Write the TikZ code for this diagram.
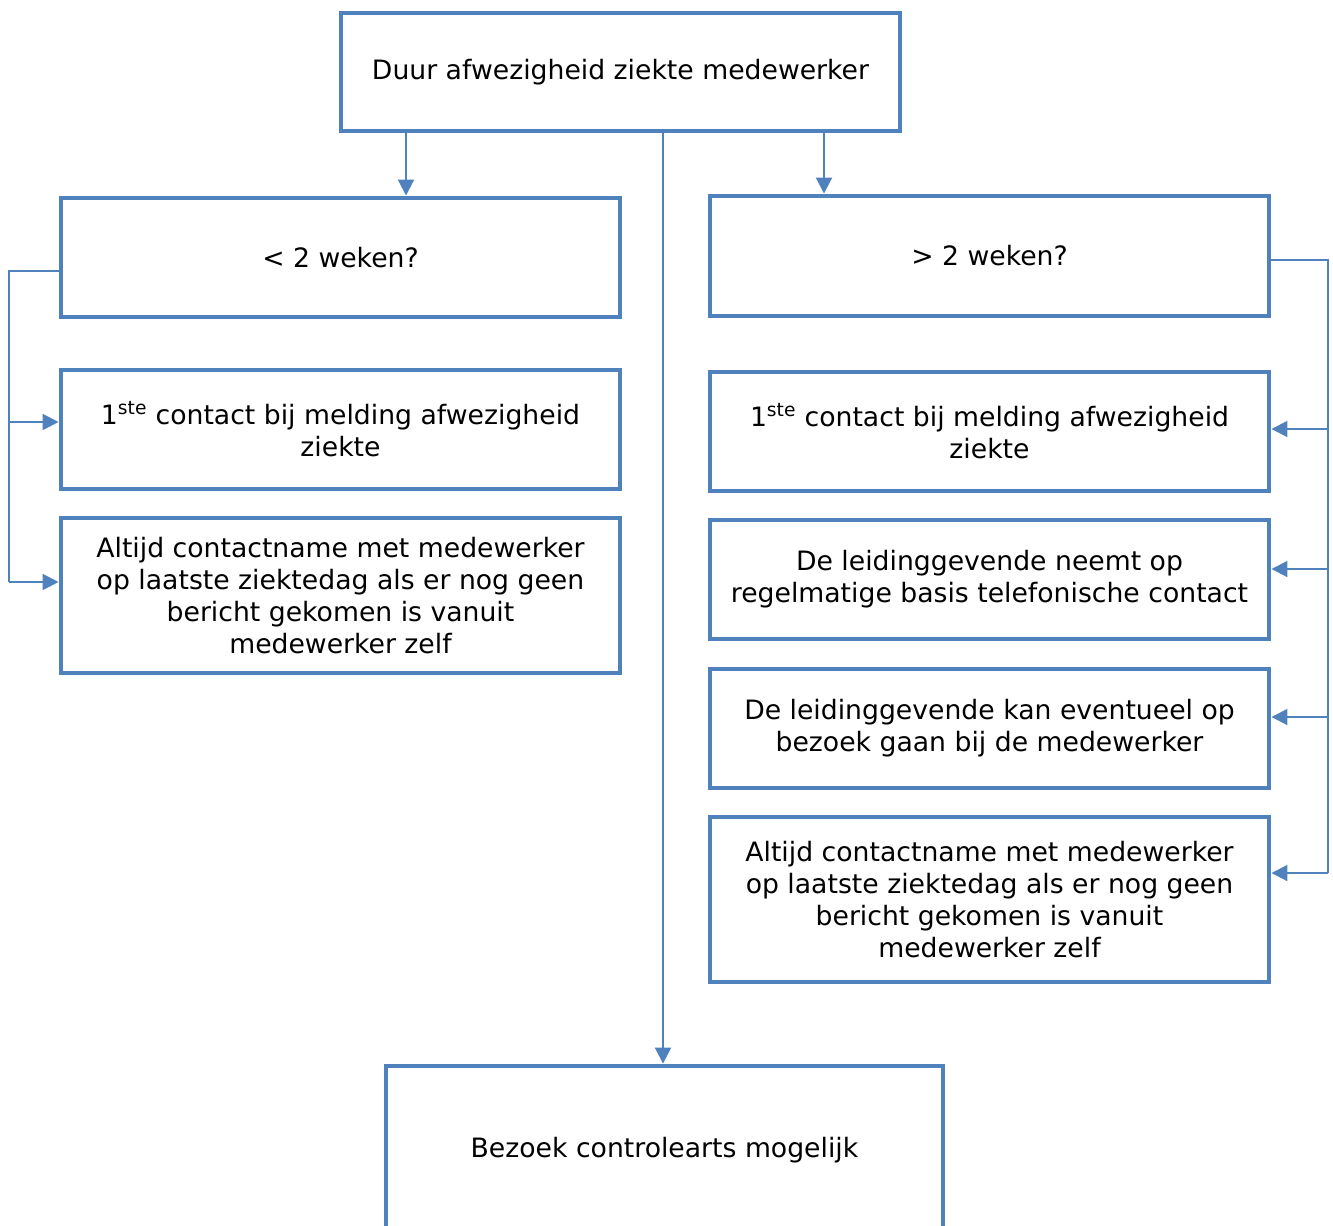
\documentclass[tikz,border=0pt]{standalone}
\usepackage{fontspec}
\setmainfont{DejaVu Sans}
\usetikzlibrary{arrows.meta}
\definecolor{obl}{HTML}{4F81BD}
\tikzset{
  box/.style={draw=obl, line width=3.7pt, rectangle, align=center, inner sep=0pt,
    font=\fontsize{20pt}{24pt}\selectfont, text=black},
  conn/.style={draw=obl, line width=1.5pt},
  arr/.style={conn, -{Triangle[length=12pt,width=12pt]}},
}
\newcommand{\bx}[7]{% name, x1, y1, x2, y2, text
  \node[box, minimum width={(#4-#2)*0.75pt}, minimum height={(#5-#3)*0.75pt}] (#1) at ({(#2+#4)/2},{(#3+#5)/2}) {#6};}
\begin{document}
\begin{tikzpicture}[x=0.75pt,y=-0.75pt]
\useasboundingbox (0,0) rectangle (1333,1225);
\clip (0,0) rectangle (1333,1225);
\bx{top}{341}{13}{900}{131}{Duur afwezigheid ziekte medewerker}{}
\bx{lA}{61}{198}{620}{317}{< 2 weken?}{}
\bx{lB}{61}{370}{620}{489}{1\textsuperscript{ste} contact bij melding afwezigheid\\ziekte}{}
\bx{lC}{61}{518}{620}{673}{Altijd contactname met medewerker\\op laatste ziektedag als er nog geen\\bericht gekomen is vanuit\\medewerker zelf}{}
\bx{rA}{710}{196}{1269}{316}{> 2 weken?}{}
\bx{rB}{710}{372}{1269}{491}{1\textsuperscript{ste} contact bij melding afwezigheid\\ziekte}{}
\bx{rC}{710}{520}{1269}{639}{De leidinggevende neemt op\\regelmatige basis telefonische contact}{}
\bx{rD}{710}{669}{1269}{788}{De leidinggevende kan eventueel op\\bezoek gaan bij de medewerker}{}
\bx{rE}{710}{817}{1269}{982}{Altijd contactname met medewerker\\op laatste ziektedag als er nog geen\\bericht gekomen is vanuit\\medewerker zelf}{}
\bx{bot}{386}{1066}{943}{1234}{Bezoek controlearts mogelijk}{}
% top to children
\draw[arr] (top.south -| 406,0) ++(0,-3) -- (lA.north -| 406,0);
\draw[arr] (top.south -| 824,0) ++(0,-3) -- (rA.north -| 824,0);
\draw[arr] (top.south -| 663,0) ++(0,-3) -- (bot.north -| 663,0);
% left bracket
\coordinate (lk1) at (9,271);
\coordinate (lk2) at (9,582);
\draw[conn] (lA.west |- lk1) -- (lk1) -- (lk2);
\draw[arr] (9,422) -- (lB.west |- 0,422);
\draw[arr] (lk2) -- (lC.west |- lk2);
% right bracket
\coordinate (rk1) at (1328,260);
\coordinate (rk2) at (1328,873);
\draw[conn] (rA.east |- rk1) -- (rk1) -- (rk2);
\draw[arr] (1328,429) -- (rB.east |- 0,429);
\draw[arr] (1328,569) -- (rC.east |- 0,569);
\draw[arr] (1328,717) -- (rD.east |- 0,717);
\draw[arr] (rk2) -- (rE.east |- rk2);
\end{tikzpicture}
\end{document}
